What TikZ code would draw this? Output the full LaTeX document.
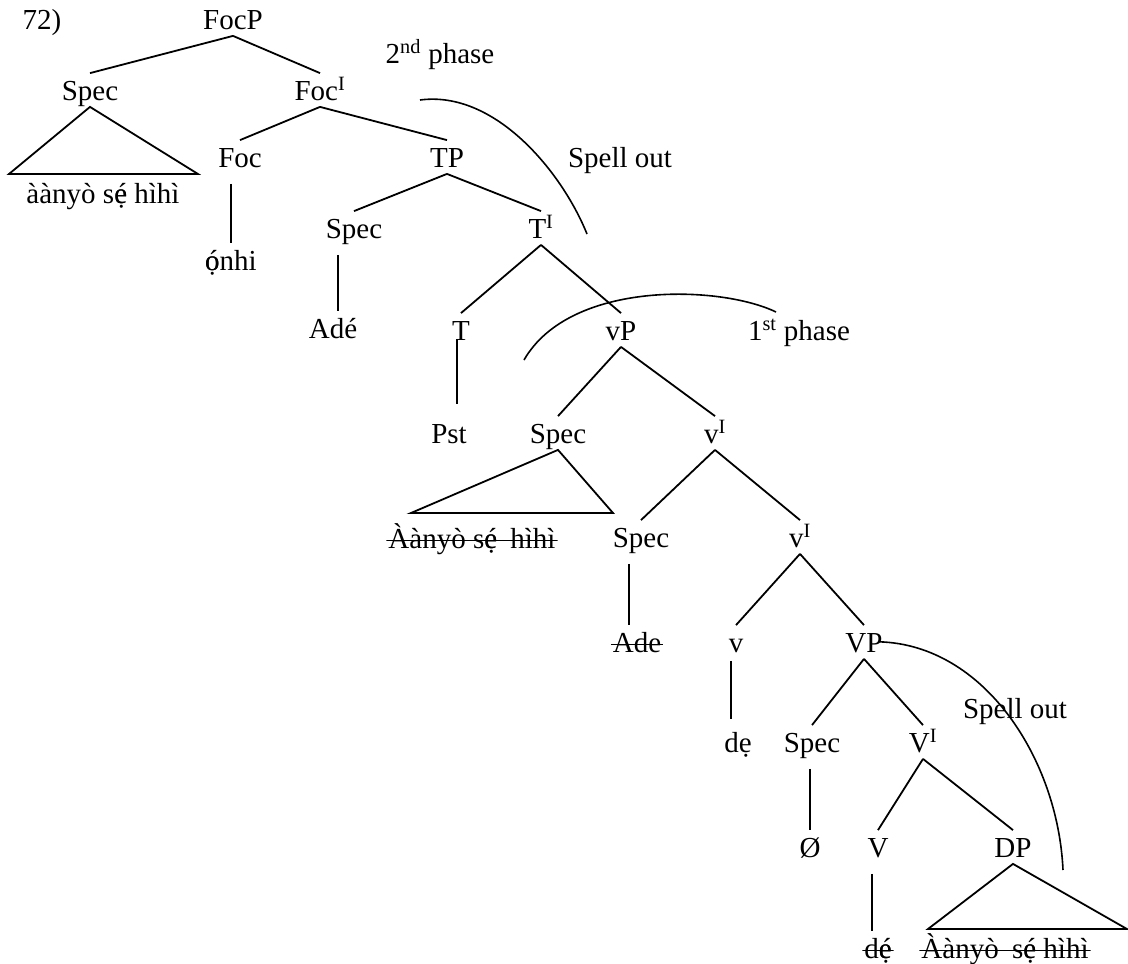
\documentclass[tikz,border=0pt]{standalone}
\usepackage{fontspec}
\setmainfont{Liberation Serif}
\newcommand{\edotac}{\makebox[0pt][l]{ẹ}é}
\newcommand{\odotac}{\makebox[0pt][l]{ọ}ó}

\begin{document}
\begin{tikzpicture}[
        x=1pt, y=-1pt,
        line width=1.8pt,
        every node/.style={font=\fontsize{29}{34}\selectfont, inner sep=2pt,
        text height=24pt, text depth=4pt, anchor=base},
        struck/.style={path picture={\draw[line width=1.6pt]
        ([yshift=13.5pt]path picture bounding box.south west) --
        ([yshift=13.5pt]path picture bounding box.south east);}},
        stem/.style={shorten <=10pt},
        spell/.style={line width=1.6pt}
      ]
    \useasboundingbox (0,0) rectangle (1128,964);
    \node (num) at (42,29) {72)};
    % CP layer
    \node (focp) at (233,29) {FocP};
    \node (spec1) at (90,100) {Spec};
    \node (foci) at (320,100) {Foc\textsuperscript{I}};
    \node (obj1) at (103,203) {àànyò s\edotac{} hìhì};
    \node (foc) at (240,167) {Foc};
    \node (tp) at (447,167) {TP};
    \node (onhi) at (231,270) {\odotac nhi};
    % TP layer
    \node (spec2) at (354,238) {Spec};
    \node (tbar) at (541,238) {T\textsuperscript{I}};
    \node (ade1) at (333,338) {Adé};
    \node (t) at (461,340) {T};
    \node (vp) at (621,340) {vP};
    \node (pst) at (449,443) {Pst};
    % vP layer
    \node (spec3) at (558,443) {Spec};
    \node (vbar1) at (715,443) {v\textsuperscript{I}};
    \node[struck] (obj2) at (472,548) {Àànyò s\edotac\hspace{6pt} hìhì};
    \node (spec4) at (641,547) {Spec};
    \node (vbar2) at (800,547) {v\textsuperscript{I}};
    \node[struck] (ade2) at (637,652) {Ade};
    \node (v) at (736,652) {v};
    \node (vp2) at (864,652) {VP};
    \node (de1) at (738,752) {dẹ};
    % VP layer
    \node (spec5) at (812,752) {Spec};
    \node (vbar3) at (923,752) {V\textsuperscript{I}};
    \node (null) at (810,857) {Ø};
    \node (vv) at (878,857) {V};
    \node (dp) at (1013,857) {DP};
    \node[struck] (de2) at (878,958) {d\edotac\hspace{8pt}};
    \node[struck] (obj3) at (1005,958) {Àànyò\hspace{6pt} s\edotac{} hìhì};
    % phase labels
    \node (phase2) at (440,63) {2\textsuperscript{nd} phase};
    \node (spell1) at (620,167) {Spell out};
    \node (phase1) at (799,340) {1\textsuperscript{st} phase};
    \node (spell2) at (1015,718) {Spell out};
    % triangle corners and arc ends
    \coordinate (t1l) at (9,174);
    \coordinate (t1r) at (198,174);
    \coordinate (t2l) at (411,513);
    \coordinate (t2r) at (613,513);
    \coordinate (t3l) at (928,929);
    \coordinate (t3r) at (1127,929);
    \coordinate (s1a) at (420,100);
    \coordinate (s1b) at (587,234);
    \coordinate (p1a) at (524,360);
    \coordinate (p1b) at (776,312);
    \coordinate (s2b) at (1063,870);
    % branches
    \draw (focp.south) -- (spec1.north);
    \draw (focp.south) -- (foci.north);
    \draw (spec1.south) -- (t1l) -- (t1r) -- cycle;
    \draw (foci.south) -- (foc.north);
    \draw (foci.south) -- (tp.north);
    \draw[stem] (onhi.north |- foc.south) -- (onhi.north);
    \draw (tp.south) -- (spec2.north);
    \draw (tp.south) -- (tbar.north);
    \draw[stem] ([xshift=5pt]ade1.north |- spec2.south) -- ([xshift=5pt]ade1.north);
    \draw (tbar.south) -- (t.north);
    \draw (tbar.south) -- (vp.north);
    \draw[shorten <=-8pt, shorten >=12pt] ([xshift=-4pt]t.south) -- ([xshift=-4pt]t.south |- pst.north);
    \draw (vp.south) -- (spec3.north);
    \draw (vp.south) -- (vbar1.north);
    \draw (spec3.south) -- (t2l) -- (t2r) -- cycle;
    \draw (vbar1.south) -- (spec4.north);
    \draw (vbar1.south) -- (vbar2.north);
    \draw[stem] ([xshift=-8pt]ade2.north |- spec4.south) -- ([xshift=-8pt]ade2.north);
    \draw (vbar2.south) -- (v.north);
    \draw (vbar2.south) -- (vp2.north);
    \draw[shorten <=2pt, shorten >=6pt] ([xshift=-5pt]v.south) -- ([xshift=-5pt]v.south |- de1.north);
    \draw (vp2.south) -- (spec5.north);
    \draw (vp2.south) -- (vbar3.north);
    \draw[stem] (null.north |- spec5.south) -- (null.north);
    \draw (vbar3.south) -- (vv.north);
    \draw (vbar3.south) -- (dp.north);
    \draw[stem] ([xshift=-6pt]vv.south) -- ([xshift=-6pt]vv.south |- de2.north);
    \draw (dp.south) -- (t3l) -- (t3r) -- cycle;
    % spell-out arcs
    \draw[spell] (s1a) .. controls (495,90) and (562,172) .. (s1b);
    \draw[spell] (p1a) .. controls (570,280) and (720,285) .. (p1b);
    \draw[spell, shorten <=-6pt] (vp2.east) .. controls (985,645) and (1058,760) .. (s2b);
      \end{tikzpicture}
\end{document}
